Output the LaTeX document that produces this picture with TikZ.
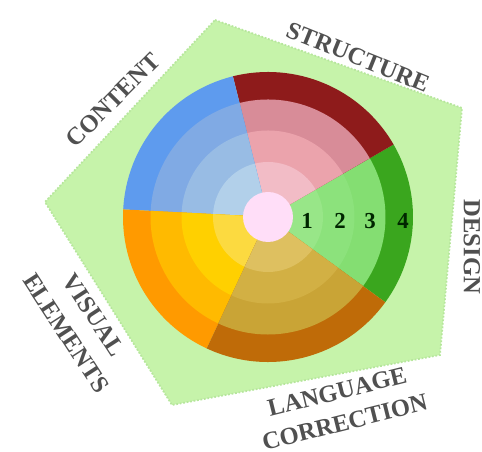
\documentclass[tikz,border=0pt]{standalone}
\usepackage{fontspec}
\setmainfont{Liberation Serif}

\definecolor{pentfill}{RGB}{198,243,170}
\definecolor{pentline}{RGB}{182,230,156}
\definecolor{labelgray}{RGB}{80,80,80}
\definecolor{centrepink}{RGB}{255,222,248}
% ring colours: 1 = inner ... 4 = outer
\definecolor{design1}{RGB}{152,230,136}
\definecolor{design2}{RGB}{140,226,124}
\definecolor{design3}{RGB}{132,222,114}
\definecolor{design4}{RGB}{58,166,30}
\definecolor{struct1}{RGB}{242,188,198}
\definecolor{struct2}{RGB}{235,163,172}
\definecolor{struct3}{RGB}{216,140,152}
\definecolor{struct4}{RGB}{142,27,27}
\definecolor{content1}{RGB}{178,208,234}
\definecolor{content2}{RGB}{152,188,228}
\definecolor{content3}{RGB}{128,170,228}
\definecolor{content4}{RGB}{94,155,238}
\definecolor{visual1}{RGB}{252,218,64}
\definecolor{visual2}{RGB}{255,208,0}
\definecolor{visual3}{RGB}{255,186,0}
\definecolor{visual4}{RGB}{255,154,0}
\definecolor{lang1}{RGB}{222,192,96}
\definecolor{lang2}{RGB}{210,176,68}
\definecolor{lang3}{RGB}{201,164,54}
\definecolor{lang4}{RGB}{191,107,8}

\tikzset{
  pentagon/.style = {fill = pentfill, draw = pentline, densely dotted, line width = 1pt},
  category/.style = {font = \fontsize{14}{17}\selectfont\bfseries, text = labelgray, align = center, inner sep = 1pt},
  level/.style    = {font = \fontsize{13}{15}\selectfont\bfseries, text = black!85!green, inner sep = 0pt}
}

\begin{document}
\begin{tikzpicture}
    \useasboundingbox (-5.36,-4.7) rectangle (4.28,4.34);
    % green pentagon behind the wheel
    \coordinate (pa) at (-1.06, 3.94);
    \coordinate (pb) at (3.88, 2.18);
    \coordinate (pc) at (3.44, -2.76);
    \coordinate (pd) at (-1.92, -3.76);
    \coordinate (pe) at (-4.46, 0.30);
    \draw[pentagon] (pa) -- (pb) -- (pc) -- (pd) -- (pe) -- cycle;
    % five sectors, rings drawn from outside (4) to inside (1)
    \foreach \a/\b/\sec in {-36/30/design, 30/104/struct, 104/177/content, 177/245/visual, 245/324/lang}{
      \fill[\sec4] (0,0) -- (\a:2.9) arc (\a:\b:2.9) -- cycle;
      \fill[\sec3] (0,0) -- (\a:2.35) arc (\a:\b:2.35) -- cycle;
      \fill[\sec2] (0,0) -- (\a:1.73) arc (\a:\b:1.73) -- cycle;
      \fill[\sec1] (0,0) -- (\a:1.1) arc (\a:\b:1.1) -- cycle;
    }
    \fill[centrepink] (0,0) circle (0.5);
    % ring numbers
    \node[level] (n1) at (0.78,-0.08) {1};
    \node[level] (n2) at (1.44,-0.08) {2};
    \node[level] (n3) at (2.04,-0.08) {3};
    \node[level] (n4) at (2.70,-0.08) {4};
    % category labels along the pentagon
    \node[category, rotate = 45]  (content)   at (-3.10, 2.34) {CONTENT};
    \node[category, rotate = -22] (structure) at (1.80, 3.20)  {STRUCTURE};
    \node[category, rotate = -90] (design)    at (4.08, -0.60) {DESIGN};
    \node[category, rotate = -57] (visual)    at (-3.76, -2.14) {VISUAL\\[2pt]ELEMENTS};
    \node[category, rotate = 14]  (language)  at (1.46, -3.80) {LANGUAGE\\[1pt]CORRECTION};
\end{tikzpicture}
\end{document}
